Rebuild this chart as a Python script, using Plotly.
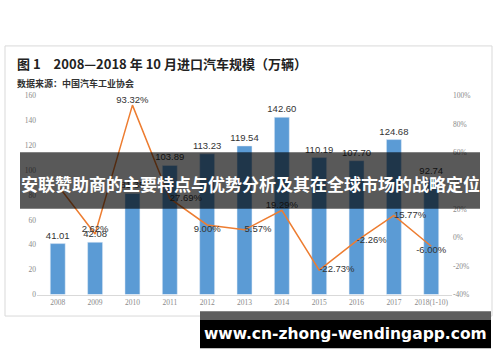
import plotly.graph_objects as go

W, H = 500, 362

categories = ["2008", "2009", "2010", "2011", "2012", "2013", "2014", "2015", "2016", "2017", "2018(1-10)"]
imports = [41.01, 42.08, 81.35, 103.89, 113.23, 119.54, 142.60, 110.19, 107.70, 124.68, 92.74]
growth = [37.0, 2.62, 93.32, 27.69, 9.00, 5.57, 19.29, -22.73, -2.26, 15.77, -6.00]
growth_labels = ["", "2.62%", "93.32%", "27.69%", "9.00%", "5.57%", "19.29%", "-22.73%", "-2.26%", "15.77%", "-6.00%"]
label_pos = ["top center", "top center", "top center", "middle right", "bottom center", "middle right",
             "top center", "middle right", "middle right", "middle right", "bottom center"]
left_ticks = [0, 20, 40, 60, 80, 100, 120, 140, 160]
right_ticks = [-40, -20, 0, 20, 40, 60, 80, 100]

title_text = "图 1　2008—2018 年 10 月进口汽车规模（万辆）"
source_text = "数据来源：中国汽车工业协会"
banner_text = "安联赞助商的主要特点与优势分析及其在全球市场的战略定位"
url_text = "www.cn-zhong-wendingapp.com"


def px(x):
    return x / W


def py(y):
    return 1 - y / H


fig = go.Figure()
fig.add_trace(go.Bar(
    x=categories, y=imports, marker_color="#5B9BD5",
    text=[f"{v:.2f}" for v in imports], textposition="outside", constraintext="none",
    textfont=dict(size=9.5, color="#333333", family="Liberation Sans"),
    cliponaxis=False, showlegend=False, yaxis="y",
))
fig.add_trace(go.Scatter(
    x=categories, y=growth, mode="lines", yaxis="y2",
    line=dict(color="#ED7D31", width=1.5), showlegend=False,
))
fig.add_trace(go.Scatter(
    x=categories, y=growth, mode="text", yaxis="y2", text=growth_labels,
    textposition=label_pos, cliponaxis=False,
    textfont=dict(size=9.5, color="#333333", family="Liberation Sans"), showlegend=False,
))

tickfont = dict(size=7.5, color="#8a8a8a", family="Liberation Serif")
fig.update_layout(
    width=W, height=H, margin=dict(l=0, r=0, t=0, b=0),
    paper_bgcolor="white", plot_bgcolor="rgba(0,0,0,0)",
    bargap=0.6,
    xaxis=dict(domain=[px(37), px(452)], type="category", showgrid=False,
               showline=True, linecolor="#d9d9d9", linewidth=1, ticks="",
               tickfont=tickfont),
    yaxis=dict(domain=[py(298), py(94)], range=[0, 160], tickvals=left_ticks,
               showgrid=False, zeroline=False, showline=False, tickfont=tickfont),
    yaxis2=dict(domain=[py(298), py(94)], overlaying="y", side="right", range=[-40, 100],
                tickvals=right_ticks, ticktext=[f"{v}%" for v in right_ticks],
                showgrid=False, zeroline=False, showline=False, tickfont=tickfont),
)

shapes = [
    dict(type="rect", xref="paper", yref="paper", x0=px(5), x1=px(492), y0=py(320), y1=py(43),
         line=dict(color="#d9d9d9", width=1), fillcolor="rgba(0,0,0,0)", layer="below"),
    dict(type="rect", xref="paper", yref="paper", x0=px(20), x1=px(480), y0=py(210), y1=py(152),
         line=dict(width=0), fillcolor="rgba(0,0,0,0.65)", layer="above"),
    dict(type="rect", xref="paper", yref="paper", x0=px(200), x1=px(491), y0=py(324), y1=py(315),
         line=dict(width=0), fillcolor="#5e5e5e", layer="above"),
    dict(type="rect", xref="paper", yref="paper", x0=px(200), x1=px(491), y0=py(353), y1=py(324),
         line=dict(width=0), fillcolor="#000000", layer="above"),
]
fig.update_layout(shapes=shapes)

annotations = [
    dict(text="<b>" + title_text + "</b>", x=px(15), y=py(61), xref="paper", yref="paper",
         xanchor="left", yanchor="middle", showarrow=False,
         font=dict(size=13, color="#222222", family="Noto Sans CJK SC")),
    dict(text="<b>" + source_text + "</b>", x=px(15), y=py(82), xref="paper", yref="paper",
         xanchor="left", yanchor="middle", showarrow=False,
         font=dict(size=9, color="#333333", family="Noto Sans CJK SC")),
    dict(text="<b>" + banner_text + "</b>", x=px(250), y=py(184), xref="paper", yref="paper",
         xanchor="center", yanchor="middle", showarrow=False,
         font=dict(size=17, color="white", family="Noto Sans CJK SC")),
    dict(text="<b>" + url_text + "</b>", x=px(345), y=py(338), xref="paper", yref="paper",
         xanchor="center", yanchor="middle", showarrow=False,
         font=dict(size=15.5, color="white", family="DejaVu Sans")),
]
fig.update_layout(annotations=annotations)

fig.write_html("out.html")
